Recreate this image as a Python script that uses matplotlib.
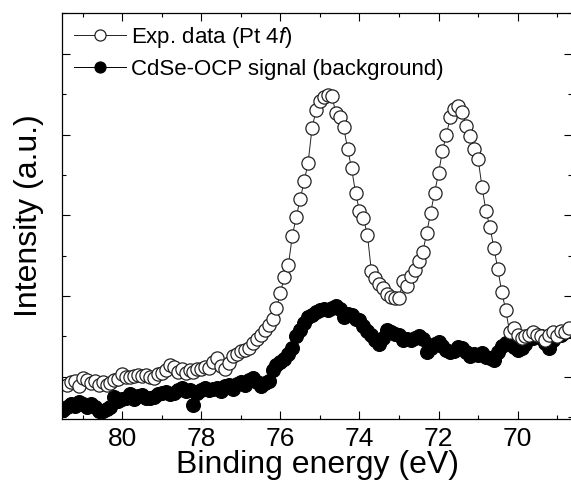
import numpy as np
import matplotlib.pyplot as plt
from matplotlib.ticker import MultipleLocator

plt.rcParams['font.family'] = ['Liberation Sans', 'DejaVu Sans']
plt.rcParams['mathtext.fontset'] = 'custom'
plt.rcParams['mathtext.it'] = 'Liberation Sans:italic'

# Pt 4f region, binding energy in eV (0.1 eV steps)
energy_exp = np.round(np.arange(81.4, 68.65, -0.1), 1)
intensity_exp = [
    0.90, 0.93, 0.95, 0.88, 0.98, 0.96, 0.92, 0.94, 0.90, 0.93,
    0.90, 0.92, 0.96, 0.97, 1.03, 0.99, 1.00, 1.01, 1.02, 1.01,
    1.02, 1.00, 0.98, 1.03, 1.05, 1.08, 1.14, 1.12, 1.06, 1.10,
    1.04, 1.08, 1.06, 1.10, 1.09, 1.12, 1.11, 1.18, 1.23, 1.13,
    1.10, 1.17, 1.25, 1.28, 1.32, 1.33, 1.35, 1.42, 1.47, 1.52,
    1.58, 1.64, 1.72, 1.85, 2.04, 2.24, 2.38, 2.74, 2.98, 3.20,
    3.42, 3.65, 4.08, 4.30, 4.41, 4.47, 4.49, 4.48, 4.27, 4.22,
    4.09, 3.82, 3.58, 3.28, 3.05, 2.96, 2.76, 2.31, 2.22, 2.15,
    2.10, 2.02, 1.99, 1.97, 1.98, 2.18, 2.12, 2.25, 2.32, 2.43,
    2.54, 2.78, 3.03, 3.28, 3.52, 3.80, 4.00, 4.22, 4.32, 4.35,
    4.28, 4.10, 3.98, 3.82, 3.70, 3.35, 3.05, 2.85, 2.60, 2.33,
    2.05, 1.82, 1.55, 1.60, 1.51, 1.48, 1.50, 1.52, 1.55, 1.52,
    1.50, 1.45, 1.52, 1.55, 1.50, 1.57, 1.55, 1.60,
]

energy_bg = np.round(np.arange(81.5, 68.65, -0.1), 1)
intensity_bg = [
    0.59, 0.62, 0.66, 0.64, 0.69, 0.66, 0.62, 0.66, 0.63, 0.58,
    0.57, 0.60, 0.62, 0.75, 0.70, 0.72, 0.74, 0.78, 0.72, 0.76,
    0.77, 0.74, 0.73, 0.75, 0.79, 0.80, 0.81, 0.78, 0.80, 0.83,
    0.86, 0.82, 0.84, 0.65, 0.80, 0.84, 0.86, 0.83, 0.85, 0.86,
    0.82, 0.88, 0.90, 0.85, 0.91, 0.93, 0.90, 0.96, 0.98, 0.93,
    0.88, 0.92, 0.95, 1.08, 1.14, 1.18, 1.22, 1.28, 1.36, 1.50,
    1.58, 1.67, 1.74, 1.76, 1.80, 1.83, 1.84, 1.83, 1.85, 1.88,
    1.84, 1.74, 1.78, 1.76, 1.72, 1.70, 1.63, 1.56, 1.52, 1.45,
    1.40, 1.48, 1.58, 1.55, 1.53, 1.52, 1.46, 1.47, 1.45, 1.48,
    1.50, 1.47, 1.30, 1.35, 1.40, 1.43, 1.38, 1.33, 1.31, 1.32,
    1.37, 1.36, 1.30, 1.25, 1.28, 1.27, 1.29, 1.24, 1.23, 1.21,
    1.30, 1.38, 1.42, 1.40, 1.37, 1.33, 1.36, 1.40, 1.50, 1.48,
    1.52, 1.50, 1.42, 1.36, 1.45, 1.50, 1.52, 1.55, 1.56,
]

fig = plt.figure(figsize=(5.71, 4.86), dpi=100)
ax = fig.add_axes([0.109, 0.138, 0.893, 0.836])

bg, = ax.plot(energy_bg, intensity_bg, '-', color='black', lw=0.7,
              marker='o', ms=10, mfc='black', mec='black', mew=0.8,
              label='CdSe-OCP signal (background)')
exp, = ax.plot(energy_exp, intensity_exp, '-', color='#222222', lw=0.7,
               marker='o', ms=9.5, mfc='white', mec='#222222', mew=0.9,
               label='Exp. data (Pt 4$\\mathit{f}$)')

ax.set_xlim(81.52, 68.62)
ax.set_ylim(0.476, 5.51)
ax.xaxis.set_major_locator(MultipleLocator(2))
ax.xaxis.set_minor_locator(MultipleLocator(1))
ax.yaxis.set_major_locator(MultipleLocator(1))
ax.yaxis.set_minor_locator(MultipleLocator(0.5))
ax.tick_params(which='both', direction='in', top=True, right=True, width=0.8)
ax.tick_params(which='major', length=5.5)
ax.tick_params(which='minor', length=2.8)
ax.tick_params(axis='x', labelsize=19, pad=6)
ax.tick_params(axis='y', labelleft=False)
for s in ax.spines.values():
    s.set_linewidth(0.9)

ax.set_xlabel('Binding energy (eV)', fontsize=23, labelpad=-1)
ax.set_ylabel('Intensity (a.u.)', fontsize=23, labelpad=10)

leg = ax.legend(handles=[exp, bg], loc='upper left', frameon=False, fontsize=16,
                handlelength=2.3, handletextpad=0.25, labelspacing=0.4,
                borderaxespad=0.35, borderpad=0.2)
for h in leg.legend_handles:
    h.set_markersize(8)

fig.savefig('out.png', dpi=100)
